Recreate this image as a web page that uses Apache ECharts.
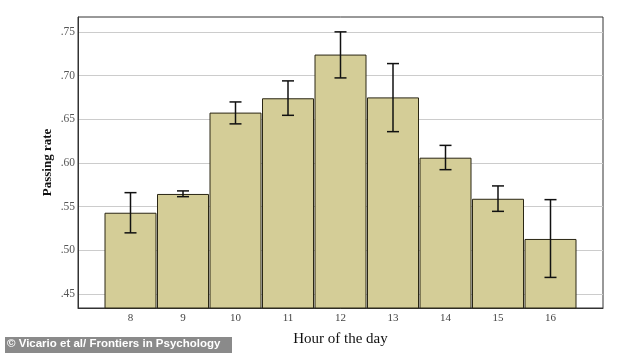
<!DOCTYPE html>
<html lang="en">
<head>
    <meta charset="UTF-8">
    <title>Passing rate by hour</title>
    <script type="text/javascript" src="https://cdn.jsdelivr.net/npm/echarts@6/dist/echarts.min.js"></script>
    <style>
        body { margin: 0; background: #fff; }
    </style>
</head>
<body>
<div id="chartmain" style="width:634px;height:353px"></div>
<script>
    // hours of the day and mean passing rate, with error bar ends
    var hours = [8, 9, 10, 11, 12, 13, 14, 15, 16];
    var rates = [0.543, 0.5645, 0.6576, 0.674, 0.724, 0.675, 0.606, 0.559, 0.513];
    var errLow = [0.520, 0.5614, 0.6447, 0.6545, 0.6973, 0.6358, 0.5923, 0.5446, 0.469];
    var errHigh = [0.566, 0.568, 0.6698, 0.6939, 0.750, 0.7137, 0.6201, 0.5737, 0.558];
    var yTicks = [0.45, 0.50, 0.55, 0.60, 0.65, 0.70, 0.75];

    var barData = [];
    var errData = [];
    for (var i = 0; i < hours.length; i++) {
        barData.push([hours[i], rates[i]]);
        errData.push([hours[i], errLow[i], errHigh[i]]);
    }

    var serif = 'Liberation Serif';

    var option = {
        animation: false,
        backgroundColor: '#fff',
        grid: { left: 78, right: 31, top: 17, bottom: 45, outerBoundsMode: 'none', containLabel: false },
        xAxis: {
            type: 'value',
            min: 7,
            max: 17,
            interval: 1,
            name: 'Hour of the day',
            nameLocation: 'middle',
            nameGap: 24,
            nameTextStyle: { fontFamily: serif, fontSize: 15, color: '#111' },
            axisLine: { show: true, lineStyle: { color: '#333', width: 1 } },
            axisTick: { show: false },
            splitLine: { show: false },
            axisLabel: {
                fontFamily: serif, fontSize: 11, color: '#444', margin: 5,
                customValues: hours,
                formatter: function (v) { return String(v); }
            }
        },
        yAxis: {
            type: 'value',
            min: 0.434,
            max: 0.767,
            name: 'Passing rate',
            nameLocation: 'middle',
            nameGap: 24,
            nameMoveOverlap: false,
            nameTextStyle: { fontFamily: serif, fontSize: 13, fontWeight: 'bold', color: '#111' },
            axisLine: { show: true, lineStyle: { color: '#333', width: 1 } },
            axisTick: { show: false, customValues: yTicks },
            splitLine: { show: true, lineStyle: { color: '#ccc', width: 1 } },
            axisLabel: {
                fontFamily: serif, fontSize: 11.5, color: '#555', margin: 3,
                customValues: yTicks,
                formatter: function (v) { return v.toFixed(2).replace(/^0/, ''); }
            }
        },
        graphic: [
            {
                type: 'rect',
                shape: { x: 78, y: 17, width: 525, height: 291 },
                style: { fill: 'none', stroke: '#333', lineWidth: 1 },
                silent: true
            },
            {
                type: 'rect',
                shape: { x: 5, y: 337, width: 227, height: 16 },
                style: { fill: '#8a8a8a' },
                silent: true
            },
            {
                type: 'text',
                left: 7,
                top: 338,
                style: {
                    text: '\u00a9 Vicario et al/ Frontiers in Psychology',
                    fill: '#fff',
                    font: 'bold 11.5px "Liberation Sans", Arial, sans-serif'
                },
                silent: true
            }
        ],
        series: [
            {
                type: 'bar',
                data: barData,
                barWidth: 52,
                itemStyle: { color: '#d4cd97', borderColor: '#2a2614', borderWidth: 1 }
            },
            {
                type: 'custom',
                data: errData,
                z: 10,
                renderItem: function (params, api) {
                    var x = api.value(0);
                    var lo = api.coord([x, api.value(1)]);
                    var hi = api.coord([x, api.value(2)]);
                    var w = 6;
                    var st = { stroke: '#111', lineWidth: 1.5 };
                    return {
                        type: 'group',
                        children: [
                            { type: 'line', shape: { x1: hi[0], y1: hi[1], x2: lo[0], y2: lo[1] }, style: st },
                            { type: 'line', shape: { x1: hi[0] - w, y1: hi[1], x2: hi[0] + w, y2: hi[1] }, style: st },
                            { type: 'line', shape: { x1: lo[0] - w, y1: lo[1], x2: lo[0] + w, y2: lo[1] }, style: st }
                        ]
                    };
                }
            }
        ]
    };

    var myChart = echarts.init(document.getElementById('chartmain'));
    myChart.setOption(option);
</script>
</body>
</html>
